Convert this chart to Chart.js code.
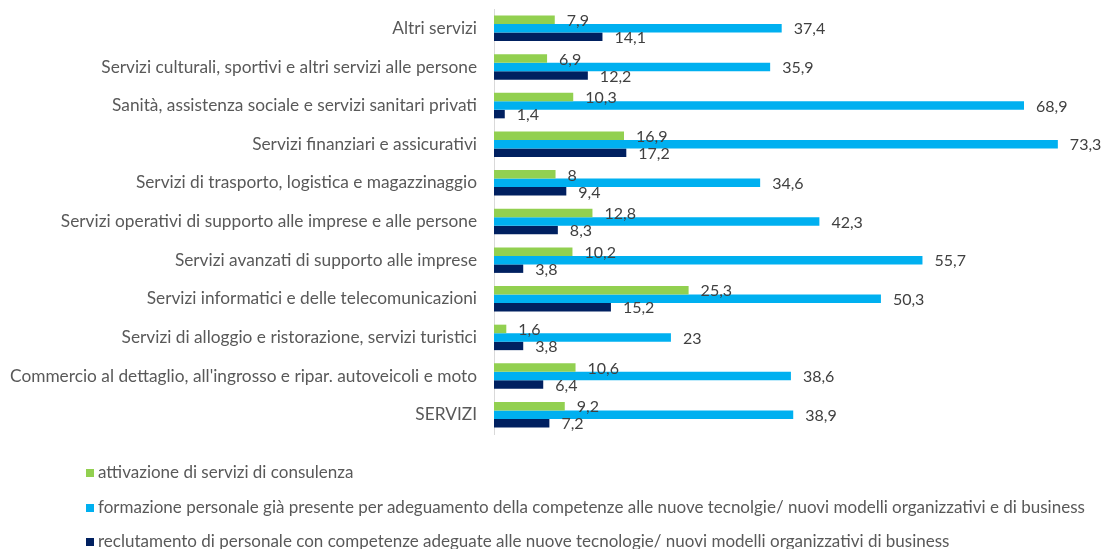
<!DOCTYPE html>
<html>
<head>
<meta charset="utf-8">
<script src="https://cdn.jsdelivr.net/npm/chart.js@4"></script>
<style>
  body { margin: 0; background: #fff; }
  #wrap { position: relative; width: 1109px; height: 549px; }
  #legend { position: absolute; left: 86px; top: 462px; font-family: Lato, sans-serif; font-size: 17px; color: #595959; }
  #legend div { height: 34.5px; line-height: 20px; white-space: nowrap; }
  #legend span.box { display: inline-block; width: 8px; height: 8px; margin-right: 4px; vertical-align: 1px; }
</style>
</head>
<body>
<div id="wrap">
  <canvas id="chart" width="1109" height="549"></canvas>
  <div id="legend"></div>
</div>
<script>
// categories, top to bottom
const categories = [
  "Altri servizi",
  "Servizi culturali, sportivi e altri servizi alle persone",
  "Sanità, assistenza sociale e servizi sanitari privati",
  "Servizi finanziari e assicurativi",
  "Servizi di trasporto, logistica e magazzinaggio",
  "Servizi operativi di supporto alle imprese e alle persone",
  "Servizi avanzati di supporto alle imprese",
  "Servizi informatici e delle telecomunicazioni",
  "Servizi di alloggio e ristorazione, servizi turistici",
  "Commercio al dettaglio, all'ingrosso e ripar. autoveicoli e moto",
  "SERVIZI"
];

const consulenza = [7.9, 6.9, 10.3, 16.9, 8, 12.8, 10.2, 25.3, 1.6, 10.6, 9.2];
const formazione = [37.4, 35.9, 68.9, 73.3, 34.6, 42.3, 55.7, 50.3, 23, 38.6, 38.9];
const reclutamento = [14.1, 12.2, 1.4, 17.2, 9.4, 8.3, 3.8, 15.2, 3.8, 6.4, 7.2];

const seriesNames = [
  "attivazione di servizi di consulenza",
  "formazione personale già presente per adeguamento della competenze alle nuove tecnolgie/ nuovi modelli organizzativi e di business",
  "reclutamento di personale con competenze adeguate alle nuove tecnologie/ nuovi modelli organizzativi di business"
];
const colors = ['#92D050', '#00B0F0', '#002060'];

const FONT = 'Lato, sans-serif';

// value labels at the end of each bar
const valueLabels = {
  id: 'valueLabels',
  afterDatasetsDraw(chart) {
    const ctx = chart.ctx;
    ctx.save();
    ctx.font = '16px ' + FONT;
    ctx.fillStyle = '#404040';
    ctx.textBaseline = 'middle';
    ctx.textAlign = 'left';
    chart.data.datasets.forEach((ds, i) => {
      chart.getDatasetMeta(i).data.forEach((bar, j) => {
        const txt = String(ds.data[j]).replace('.', ',');
        ctx.fillText(txt, bar.x + 12, bar.y + 1);
      });
    });
    ctx.restore();
  }
};

new Chart(document.getElementById('chart'), {
  type: 'bar',
  data: {
    labels: categories,
    datasets: [
      { label: seriesNames[0], data: consulenza, backgroundColor: colors[0] },
      { label: seriesNames[1], data: formazione, backgroundColor: colors[1] },
      { label: seriesNames[2], data: reclutamento, backgroundColor: colors[2] }
    ]
  },
  options: {
    indexAxis: 'y',
    responsive: false,
    animation: false,
    layout: { padding: { top: 9, bottom: 115, right: 15, left: 0 } },
    datasets: { bar: { barPercentage: 1, categoryPercentage: 0.66 } },
    scales: {
      x: {
        min: 0, max: 78,
        display: false
      },
      y: {
        grid: { display: false },
        border: { display: true, color: '#D9D9D9' },
        ticks: { font: { family: FONT, size: 17.3 }, color: '#595959', padding: 9 },
        afterFit(scale) {
          scale.width = 494;
          scale.paddingTop = 0;
          scale.paddingBottom = 0;
        }
      }
    },
    plugins: {
      legend: { display: false },
      tooltip: { enabled: false }
    }
  },
  plugins: [valueLabels]
});

// legend below the chart
const legend = document.getElementById('legend');
seriesNames.forEach((name, i) => {
  const row = document.createElement('div');
  row.innerHTML = '<span class="box" style="background:' + colors[i] + '"></span>' + name;
  legend.appendChild(row);
});
</script>
</body>
</html>
